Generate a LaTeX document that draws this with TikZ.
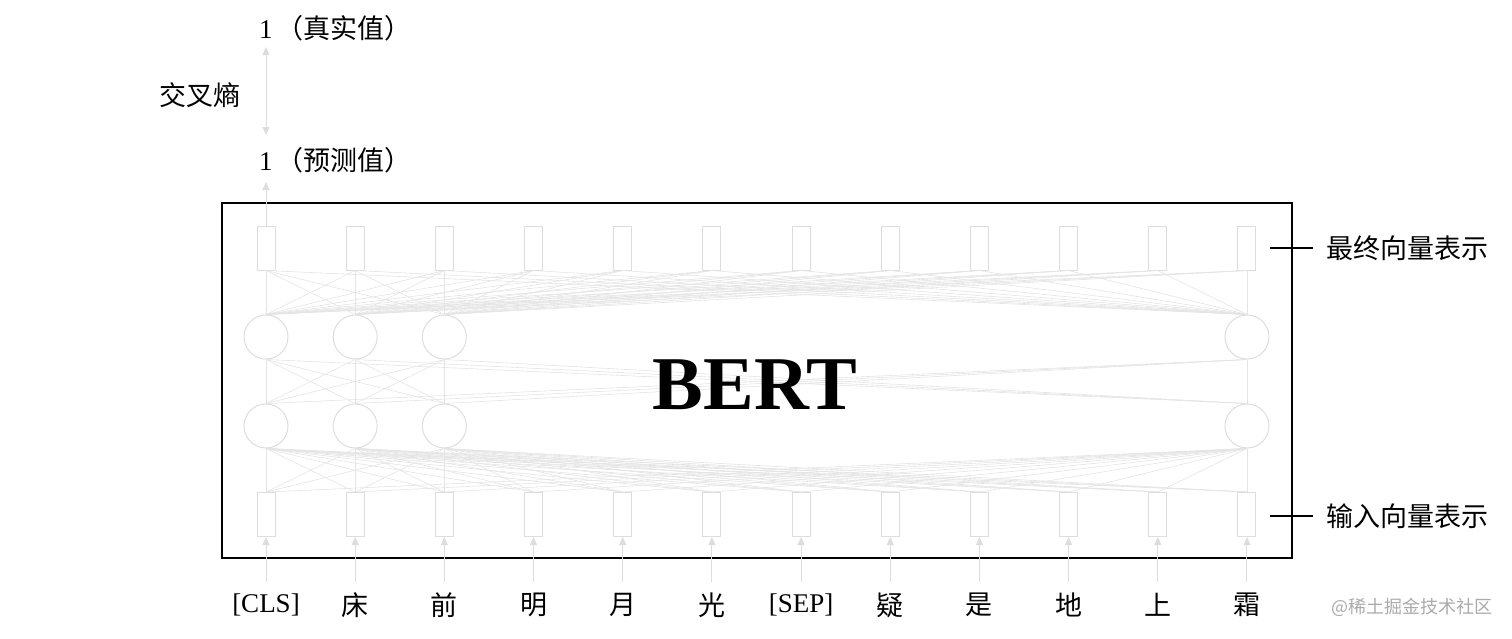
\documentclass[tikz,border=0pt]{standalone}
\usepackage{fontspec}
\setmainfont{Liberation Serif}
\newfontfamily\cjk{Noto Sans CJK SC}
\usetikzlibrary{arrows.meta}
\definecolor{lg}{HTML}{DDDDDD}
\definecolor{lk}{HTML}{E4E4E4}
\definecolor{wm}{HTML}{AAAAAA}
\begin{document}
\begin{tikzpicture}[x=1pt,y=-1pt,
  cell/.style={draw=lg, line width=1pt, minimum width=18pt, minimum height=44pt, inner sep=0pt},
  unit/.style={draw=lg, line width=1pt, circle, minimum size=44pt, inner sep=0pt},
  link/.style={draw=lk, line width=0.6pt},
  garrow/.style={draw=lg, line width=1pt, -{Triangle[length=8pt,width=7pt]}},
  gdarrow/.style={draw=lg, line width=1pt, {Triangle[length=8pt,width=7pt]}-{Triangle[length=8pt,width=7pt]}},
  lbl/.style={font=\fontsize{27}{27}\selectfont, inner sep=0pt},
  blk/.style={draw=black, line width=2pt}]
\useasboundingbox (0,0) rectangle (1512,638);
% outer box
\node[draw=black, line width=2.5pt, minimum width=1070pt, minimum height=355pt, inner sep=0pt] (box) at (757,380.5) {};
% columns
\foreach \i in {1,...,12}{
  \pgfmathsetmacro{\xx}{266+(\i-1)*89.18}
  \node[cell] (t\i) at (\xx,248) {};
  \node[cell] (u\i) at (\xx,514.5) {};
  \coordinate (s\i) at (\xx,582);
}
% hidden units
\foreach \i in {1,2,3,12}{
  \pgfmathsetmacro{\xx}{266+(\i-1)*89.18}
  \node[unit] (a\i) at (\xx,337) {};
  \node[unit] (b\i) at (\xx,426) {};
}
% links
\foreach \i in {1,...,12}{
  \foreach \j in {1,2,3,12}{
    \draw[link] (t\i.south) -- (a\j.north);
    \draw[link] (b\j.south) -- (u\i.north);
  }
  \draw[garrow] (s\i) -- (u\i.south);
}
\foreach \i in {1,2,3,12}{
  \foreach \j in {1,2,3,12}{
    \draw[link] (a\i.south) -- (b\j.north);
  }
}
% BERT
\node[font=\bfseries\fontsize{76}{76}\selectfont, inner sep=0pt] (bert) at (755,385) {BERT};
% top part
\node[lbl, anchor=west] (pred) at (259,160) {1\hspace{4pt}{\cjk （预测值）}};
\node[lbl, anchor=west] (true) at (259,28) {1\hspace{4pt}{\cjk （真实值）}};
\node[lbl] (ce) at (200,95) {\cjk 交叉熵};
\coordinate (p0) at (266,182);
\coordinate (q0) at (266,135);
\coordinate (q1) at (266,47);
\draw[garrow] (t1.north) -- (p0);
\draw[gdarrow] (q0) -- (q1);
% right labels
\coordinate (f0) at (1270,248);
\coordinate (f1) at (1313,248);
\coordinate (g0) at (1270,516);
\coordinate (g1) at (1313,516);
\draw[blk] (f0) -- (f1);
\draw[blk] (g0) -- (g1);
\node[lbl, anchor=west] (fin) at (1326,248) {\cjk 最终向量表示};
\node[lbl, anchor=west] (inp) at (1326,516) {\cjk 输入向量表示};
% tokens
\foreach \i/\t in {1/{[CLS]},2/{\cjk 床},3/{\cjk 前},4/{\cjk 明},5/{\cjk 月},6/{\cjk 光},7/{[SEP]},8/{\cjk 疑},9/{\cjk 是},10/{\cjk 地},11/{\cjk 上},12/{\cjk 霜}}{
  \pgfmathsetmacro{\xx}{266+(\i-1)*89.18}
  \node[lbl] (w\i) at (\xx,605) {\t};
}
% watermark
\node[font=\cjk\fontsize{18}{18}\selectfont, text=wm, inner sep=0pt, anchor=east] (wmk) at (1493,607) {@稀土掘金技术社区};
\end{tikzpicture}
\end{document}
